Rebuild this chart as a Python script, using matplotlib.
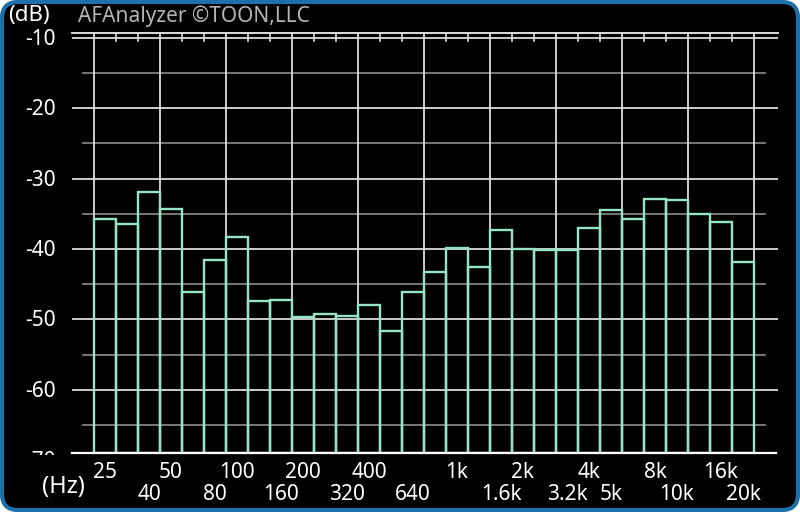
import numpy as np
import matplotlib.pyplot as plt
from matplotlib.patches import FancyBboxPatch
import matplotlib.transforms as mtransforms

# 1/3 octave bands, 25 Hz .. 20 kHz
bands = ["25", "31.5", "40", "50", "63", "80", "100", "125", "160", "200",
         "250", "315", "400", "500", "630", "800", "1k", "1.25k", "1.6k", "2k",
         "2.5k", "3.15k", "4k", "5k", "6.3k", "8k", "10k", "12.5k", "16k", "20k"]
levels = [-35.7, -36.4, -31.9, -34.3, -46.1, -41.6, -38.3, -47.4, -47.3, -49.6,
          -49.2, -49.5, -47.9, -51.6, -46.1, -43.3, -39.8, -42.6, -37.3, -40.0,
          -40.1, -40.1, -37.0, -34.4, -35.8, -32.9, -33.1, -35.0, -36.1, -41.8]
top_labels = {0: "25", 3: "50", 6: "100", 9: "200", 12: "400", 16: "1k",
              19: "2k", 22: "4k", 25: "8k", 28: "16k"}
bottom_labels = {2: "40", 5: "80", 8: "160", 11: "320", 14: "640", 18: "1.6k",
                 21: "3.2k", 23: "5k", 26: "10k", 29: "20k"}
y_ticks = [-10, -20, -30, -40, -50, -60, -70]

plt.rcParams['font.family'] = ['Noto Sans', 'DejaVu Sans']

W, H = 800, 512
fig = plt.figure(figsize=(W / 100, H / 100), dpi=100, facecolor="white")

# blue rounded frame (behind the axes)
frame = FancyBboxPatch((0.02, 0.02), W / 100 - 0.04, H / 100 - 0.04,
                       boxstyle="round,pad=0,rounding_size=0.16",
                       transform=fig.dpi_scale_trans, facecolor="black",
                       edgecolor="#1f6fa9", linewidth=3, zorder=-10)
fig.patches.append(frame)

ax = fig.add_axes([72 / W, (H - 453) / H, 706 / W, 420 / H])
ax.set_zorder(5)
ax.set_facecolor("none")
for s in ax.spines.values():
    s.set_visible(False)
ax.set_xticks([])
ax.set_yticks([])

ymin, ymax = -69.0, -9.3
ax.set_xlim(-1.0, 31.09)
ax.set_ylim(ymin, ymax)

major = "#dcdcdc"
minor = "#8c8c8c"

# horizontal grid
for v in [-10, -20, -30, -40, -50, -60]:
    ax.axhline(v, 0, 1, color=major, lw=1.3, zorder=1)
for v in [-15, -25, -35, -45, -55, -65]:
    ax.axhline(v, 11 / 706, 693 / 706, color=minor, lw=1.2, zorder=1)
ax.axhline(ymax, 0, 1, color=major, lw=1.4, zorder=1, clip_on=False)
ax.axhline(ymin, 0, 704 / 706, color="white", lw=1.6, zorder=3, clip_on=False)

# vertical grid at every third band edge, small ticks at the others
for e in range(31):
    if e % 3 == 0:
        ax.axvline(e, color=major, lw=1.3, zorder=1)
    else:
        ax.plot([e, e], [ymax, -10.4], color=major, lw=1.2, zorder=1,
                clip_on=False)

# bars
x = np.arange(len(bands))
vals = np.array(levels)
ax.bar(x, vals - ymin, bottom=ymin, width=1.0, align="edge", fill=False,
       edgecolor="#96e4c6", linewidth=1.7, zorder=2)

# y tick labels (-70 is cut off by the axis line)
for v in y_ticks:
    t = ax.text(-1.75, v - 0.2, str(v), color="white",
                fontsize=15, ha="right", va="center", clip_on=False)
    if v == -70:
        t.set_clip_box(mtransforms.TransformedBbox(
            mtransforms.Bbox.from_extents(0, (H - 455) / H, 1, 1),
            fig.transFigure))
        t.set_clip_on(True)

# x labels
trans = mtransforms.blended_transform_factory(ax.transData, fig.transFigure)
for i, s in top_labels.items():
    ax.text(i + 0.5, 1 - 472 / H, s, transform=trans, color="white",
            fontsize=15, ha="center", va="center")
for i, s in bottom_labels.items():
    ax.text(i + 0.5, 1 - 495 / H, s, transform=trans, color="white",
            fontsize=15, ha="center", va="center")

fig.text(8 / W, 1 - 15 / H, "(dB)", color="white", fontsize=16,
         ha="left", va="center")
fig.text(78 / W, 1 - 16 / H, "AFAnalyzer ©TOON,LLC", color="#b4b4b4",
         fontsize=15, ha="left", va="center")
fig.text(42 / W, 1 - 487 / H, "(Hz)", color="white", fontsize=17,
         ha="left", va="center")

fig.savefig("out.png", dpi=100, facecolor="white")
